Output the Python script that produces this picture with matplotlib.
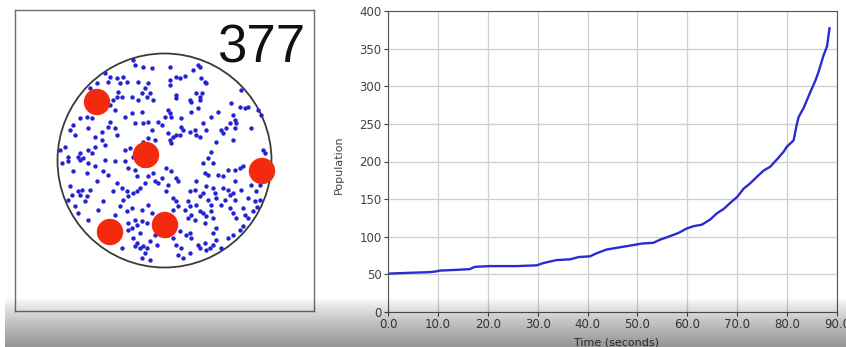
import matplotlib.pyplot as plt
import numpy as np
from matplotlib.patches import Circle
from matplotlib.ticker import FormatStrFormatter

# population over time (seconds)
time_s = [0.0, 4.0, 8.4, 9.7, 10.4, 13.7, 16.4, 17.4, 20.4, 25.8, 29.8, 31.1, 33.8,
          36.5, 38.2, 40.5, 41.8, 43.8, 46.5, 49.2, 50.9, 53.2, 54.5, 56.6, 58.2,
          59.9, 61.2, 62.9, 64.6, 65.9, 67.3, 68.6, 70.0, 71.3, 72.6, 74.0, 75.3,
          76.6, 78.0, 79.3, 80.0, 81.3, 81.9, 82.3, 83.3, 84.0, 84.7, 85.7, 86.3,
          87.3, 88.0, 88.5]
population = [51, 52, 53, 54, 55, 56, 57, 60, 61, 61, 62, 65, 69,
              70, 73, 74, 78, 83, 86, 89, 91, 92, 96, 101, 105,
              111, 114, 116, 123, 131, 137, 145, 153, 164, 171, 180, 188,
              193, 203, 213, 220, 228, 248, 259, 271, 282, 293, 308, 319,
              341, 353, 377]

# dish contents (pixel-like units inside a 299 x 301 box, y down)
dish_center = (149.5, 150.5)
dish_radius = 107

cell_x = [120, 128, 137, 118, 90, 95, 102, 108, 112, 105, 93, 82, 75, 123, 133, 130, 127,
          135, 138, 132, 123, 117, 103, 102, 98, 107, 95, 100, 72, 77, 65, 58, 55, 60,
          73, 80, 87, 93, 95, 100, 102, 87, 90, 80, 73, 77, 65, 50, 45, 110, 117, 127,
          120, 128, 133, 143, 147, 137, 133, 140, 128, 123, 115, 110, 118, 68, 63, 53,
          155, 155, 155, 161, 165, 170, 178, 183, 185, 186, 190, 191, 161, 161, 175, 176,
          181, 185, 187, 185, 153, 155, 150, 156, 166, 176, 183, 196, 203, 216, 225, 230,
          233, 226, 243, 246, 218, 220, 215, 221, 220, 211, 188, 191, 206, 208, 180, 175,
          168, 165, 161, 158, 153, 155, 156, 166, 181, 185, 201, 218, 236, 196, 193, 248,
          250,
          47, 53, 65, 73, 72, 80, 90, 100, 110, 113, 88, 93, 82, 58, 55, 63, 67, 65, 57,
          53, 72, 75, 70, 60, 63, 73, 83, 88, 98, 102, 107, 108, 112, 113, 118, 122, 125,
          130, 133, 138, 140, 143, 147, 122, 120, 127, 117, 112, 105, 100, 113, 117, 120,
          122, 127, 132, 137, 133, 127, 125, 118, 122, 120, 125, 128, 132, 135, 140, 142,
          130, 127, 135, 107, 113,
          151, 156, 161, 163, 153, 151, 158, 161, 163, 158, 175, 180, 181, 190, 193, 188,
          198, 203, 208, 213, 220, 225, 228, 191, 198, 200, 201, 208, 213, 215, 218, 220,
          210, 206, 193, 188, 185, 173, 175, 176, 173, 180, 185, 188, 191, 196, 190, 198,
          215, 218, 221, 228, 230, 233, 238, 241, 240, 245, 242, 226, 236, 245, 171, 176,
          175, 165, 161, 166, 163, 168, 175, 183, 185, 190, 191, 195, 198, 201, 206, 213,
          218, 225, 228, 153, 158, 198, 201, 220, 196, 181, 170, 233]
cell_y = [55, 57, 58, 50, 63, 67, 68, 67, 72, 73, 72, 73, 78, 72, 73, 78, 83,
          83, 90, 87, 90, 87, 82, 87, 90, 87, 95, 100, 107, 108, 108, 115, 120, 125,
          118, 127, 122, 117, 112, 118, 125, 130, 135, 137, 140, 143, 143, 137, 140, 107, 103, 102,
          113, 113, 112, 112, 115, 120, 128, 130, 132, 137, 138, 140, 147, 148, 147, 147,
          57, 70, 75, 67, 68, 66, 60, 55, 57, 68, 72, 73, 85, 88, 90, 92,
          83, 87, 83, 90, 100, 103, 107, 107, 108, 102, 98, 107, 102, 93, 97, 98,
          97, 80, 100, 105, 105, 110, 113, 113, 118, 118, 113, 120, 120, 123, 120, 122,
          120, 125, 125, 127, 123, 130, 133, 117, 125, 127, 132, 130, 118, 142, 148, 140,
          143,
          153, 151, 150, 153, 163, 156, 150, 151, 151, 158, 161, 165, 171, 161, 176, 181, 180, 185, 185,
          190, 186, 180, 191, 196, 203, 210, 200, 191, 181, 173, 178, 190, 181, 186, 183, 181, 178,
          173, 166, 163, 171, 173, 168, 166, 160, 155, 198, 201, 196, 205, 213, 218, 210,
          215, 211, 213, 203, 195, 200, 223, 228, 233, 236, 238, 236, 238, 231, 225, 235,
          243, 248, 250, 238, 220,
          158, 161, 168, 171, 175, 181, 188, 191, 196, 200, 181, 180, 171, 163, 165, 153,
          153, 165, 166, 160, 160, 158, 156, 176, 178, 183, 188, 178, 180, 185, 183, 190,
          190, 195, 190, 183, 186, 191, 196, 205, 208, 210, 201, 203, 206, 201, 213, 208,
          198, 203, 208, 198, 205, 208, 201, 181, 191, 190, 197, 180, 175, 175, 225, 228,
          223, 221, 235, 238, 245, 248, 243, 235, 238, 233, 240, 238, 235, 230, 238, 228,
          225, 220, 216, 225, 228, 223, 218, 171, 195, 195, 200, 188]

# big red blobs
blob_x = [82, 131, 247, 95, 150]
blob_y = [92, 145, 161, 222, 215]
blob_radius = 12.5

fig = plt.figure(figsize=(8.46, 3.47), dpi=100)

# left panel: the dish
ax1 = fig.add_axes([15 / 846, 1 - 311 / 347, 299 / 846, 301 / 347])
ax1.set_xlim(0, 299)
ax1.set_ylim(301, 0)
ax1.set_xticks([])
ax1.set_yticks([])
for s in ax1.spines.values():
    s.set_color('#6f6f6f')
    s.set_linewidth(1.0)
ax1.add_patch(Circle(dish_center, dish_radius, fill=False, edgecolor='#3a3a3a', linewidth=1.3))
ax1.scatter(cell_x, cell_y, s=10, color='#2323d2', linewidths=0, zorder=3)
for bx, by in zip(blob_x, blob_y):
    ax1.add_patch(Circle((bx, by), blob_radius, color='#f42a0e', zorder=4))
ax1.text(0.97, 0.824, str(population[-1]), transform=ax1.transAxes, ha='right',
         va='baseline', fontsize=38, family='Liberation Sans', color='#111111')

# right panel: population curve
ax2 = fig.add_axes([388 / 846, 1 - 312 / 347, 449 / 846, 301 / 347])
ax2.plot(time_s, population, color='#2b2bd0', linewidth=1.7)
ax2.set_xlim(0, 90)
ax2.set_ylim(0, 400)
ax2.set_xticks(np.arange(0, 91, 10))
ax2.set_yticks(np.arange(0, 401, 50))
ax2.xaxis.set_major_formatter(FormatStrFormatter('%.1f'))
ax2.grid(True, color='#cfcfcf', linewidth=0.9)
ax2.tick_params(labelsize=8.5, colors='#444444', length=3, pad=1.5)
for s in ax2.spines.values():
    s.set_color('#555555')
ax2.set_ylabel('Population', fontsize=8, color='#444444')
ax2.yaxis.set_label_coords(-0.098, 0.49)
ax2.set_xlabel('Time (seconds)', fontsize=8, color='#444444')
ax2.xaxis.set_label_coords(0.51, -0.085)

# grey fade along the bottom edge
fade = fig.add_axes([5 / 846, 0, 841 / 846, 48 / 347], zorder=10)
alpha = np.linspace(0, 1, 100) ** 0.8 * 0.42
img = np.zeros((100, 2, 4))
img[:, :, 3] = alpha[:, None]
fade.imshow(img, aspect='auto', extent=(0, 1, 1, 0))
fade.axis('off')

fig.savefig('out.png', dpi=100)
